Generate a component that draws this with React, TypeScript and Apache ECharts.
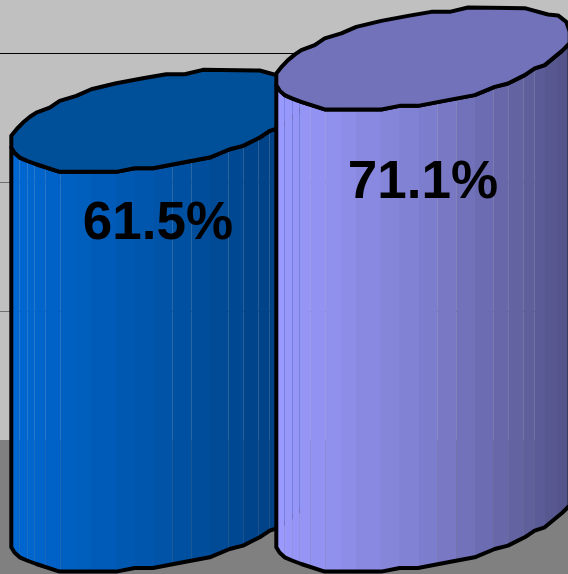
import React, { useEffect, useRef } from "react";
import * as echarts from "echarts";

const categories = ["A", "B"];
const seriesValues = [61.5, 71.1];
const wallTicks = { min: 0, max: 68.31, interval: 20 };
const wallLineColors = ["transparent", "#6f6f6f", "#6f6f6f", "#000000", "transparent"];

// Colours of each cylinder: shaded side from left to right, and the top face.
const sideColors = [
  ["#0068d2", "#0054a8", "#003d7c"],
  ["#9a9aff", "#7f7fd0", "#525288"],
];
const topColors = ["#004f99", "#7272bb"];

// Facetted rim of a cylinder, in pixels around its centre.
const rimUpper = [
  [-146.7, 15.1], [-141, 8], [-135, 1.8], [-128, -4], [-121.7, -8.2], [-108.3, -13.2], [-98.3, -19.9],
  [-81.7, -24.9], [-66.7, -31.5], [-41.7, -37.5], [-15, -42.5], [8.3, -46.5],
  [26.7, -46.5], [45, -50.9], [101.7, -50.2], [125, -43.9], [135, -42.9],
  [143.3, -36.5], [146.7, -26.8],
];
const rimLower = [
  [146.7, -15.1], [139, -7.5], [131.7, -1.5], [121.7, 6.8], [111.7, 10.1], [101.7, 16.8],
  [85, 25.1], [71.7, 28.5], [51.7, 36.8], [25, 41.8], [-5, 47.5], [-23.3, 47.5],
  [-41.7, 51.1], [-98.3, 51.1], [-121.7, 43.5], [-131, 40], [-138.3, 36.8], [-143.5, 32], [-146.7, 26.8],
];

const CYLINDER_WIDTH = 293.4;
const facetEdges = [8, 16, 23, 34, 49, 65, 80, 105, 123, 143, 161, 180, 199, 217, 232, 247, 258, 269, 281];
const seamEdges = [8, 16, 23, 34, 49, 161, 180, 217, 232, 247, 258];
const labelDrops = [99.5, 121.5];

const hexToRgb = (hex: string) => [1, 3, 5].map((i) => parseInt(hex.slice(i, i + 2), 16));

// Shade of the cylinder's side at position t (0 to 1) across its width.
function shadeAt(colors: string[], t: number, alpha = 1) {
  const [a, b, c] = colors.map(hexToRgb);
  const [from, to, k] = t < 0.5 ? [a, b, t * 2] : [b, c, (t - 0.5) * 2];
  const mix = from.map((v, i) => Math.round(v + (to[i] - v) * k));
  return `rgba(${mix[0]},${mix[1]},${mix[2]},${alpha})`;
}

// Horizontal gradient with hard-edged facets; the seams between facets are
// slightly see-through, so whatever stands behind the cylinder tints them.
function sideGradient(colors: string[]) {
  const stops: { offset: number; color: string }[] = [];
  const edges = [0, ...facetEdges, CYLINDER_WIDTH];
  for (let i = 0; i < edges.length - 1; i++) {
    const from = edges[i] / CYLINDER_WIDTH;
    const to = edges[i + 1] / CYLINDER_WIDTH;
    const mid = (from + to) / 2;
    const color = shadeAt(colors, mid);
    if (seamEdges.includes(edges[i])) {
      const end = Math.min(from + 1 / CYLINDER_WIDTH, to);
      const seam = shadeAt(colors, mid, 0.78);
      stops.push({ offset: from, color: seam });
      stops.push({ offset: end, color: seam });
      stops.push({ offset: end, color });
    } else {
      stops.push({ offset: from, color });
    }
    stops.push({ offset: to, color });
  }
  return new echarts.graphic.LinearGradient(0, 0, 1, 0, stops);
}

export default function App() {
  const ref = useRef<HTMLDivElement>(null);

  useEffect(() => {
    document.body.style.margin = "0";
    const chart = echarts.init(ref.current!, undefined, { renderer: "svg" });

    const renderItem = (params: any, api: any) => {
      const index = params.dataIndex;
      const [cx, cy] = api.coord([api.value(0), api.value(1)]);
      const [, baseY] = api.coord([api.value(0), 0]);
      const depth = baseY - cy;
      const rim = [...rimUpper, ...rimLower].map(([dx, dy]) => [cx + dx, cy + dy]);
      const front = rimLower.map(([dx, dy]) => [cx + dx, cy + dy]);
      const bottom = [...rimLower].reverse().map(([dx, dy]) => [cx + dx, cy + dy + depth]);
      const outline = { stroke: "#000000", lineWidth: 4, lineJoin: "round" };
      return {
        type: "group",
        children: [
          {
            type: "polygon",
            shape: { points: [...front, ...bottom] },
            style: { fill: sideGradient(sideColors[index]), ...outline },
          },
          {
            type: "polygon",
            shape: { points: rim },
            style: { fill: topColors[index], ...outline },
          },
          {
            type: "text",
            x: cx,
            y: cy + labelDrops[index],
            style: {
              text: `${api.value(1)}%`,
              fill: "#000000",
              font: 'bold 53px "Liberation Sans", Arial, sans-serif',
              align: "center",
              verticalAlign: "middle",
            },
          },
        ],
      };
    };

    chart.setOption({
      animation: false,
      backgroundColor: "#808080",
      grid: [
        { left: 25.5, width: 530, top: 0.5, height: 520, show: false },
        {
          left: 0,
          right: 0,
          top: 0,
          height: 439.9,
          show: true,
          backgroundColor: "#c0c0c0",
          borderWidth: 0,
        },
      ],
      xAxis: [
        { type: "category", gridIndex: 0, data: categories, show: false },
        { type: "value", gridIndex: 1, show: false, min: 0, max: 1 },
      ],
      yAxis: [
        { type: "value", gridIndex: 0, min: 0, max: 80, show: false },
        {
          type: "value",
          gridIndex: 1,
          min: wallTicks.min,
          max: wallTicks.max,
          interval: wallTicks.interval,
          axisLine: { show: false },
          axisTick: { show: false },
          axisLabel: { show: false },
          splitLine: { show: true, lineStyle: { color: wallLineColors, width: 1 } },
        },
      ],
      series: [
        {
          type: "custom",
          xAxisIndex: 0,
          yAxisIndex: 0,
          clip: false,
          data: seriesValues.map((v, i) => [i, v]),
          encode: { x: 0, y: 1 },
          renderItem,
        },
      ],
    });

    return () => chart.dispose();
  }, []);

  return <div ref={ref} style={{ width: 568, height: 574 }} />;
}
